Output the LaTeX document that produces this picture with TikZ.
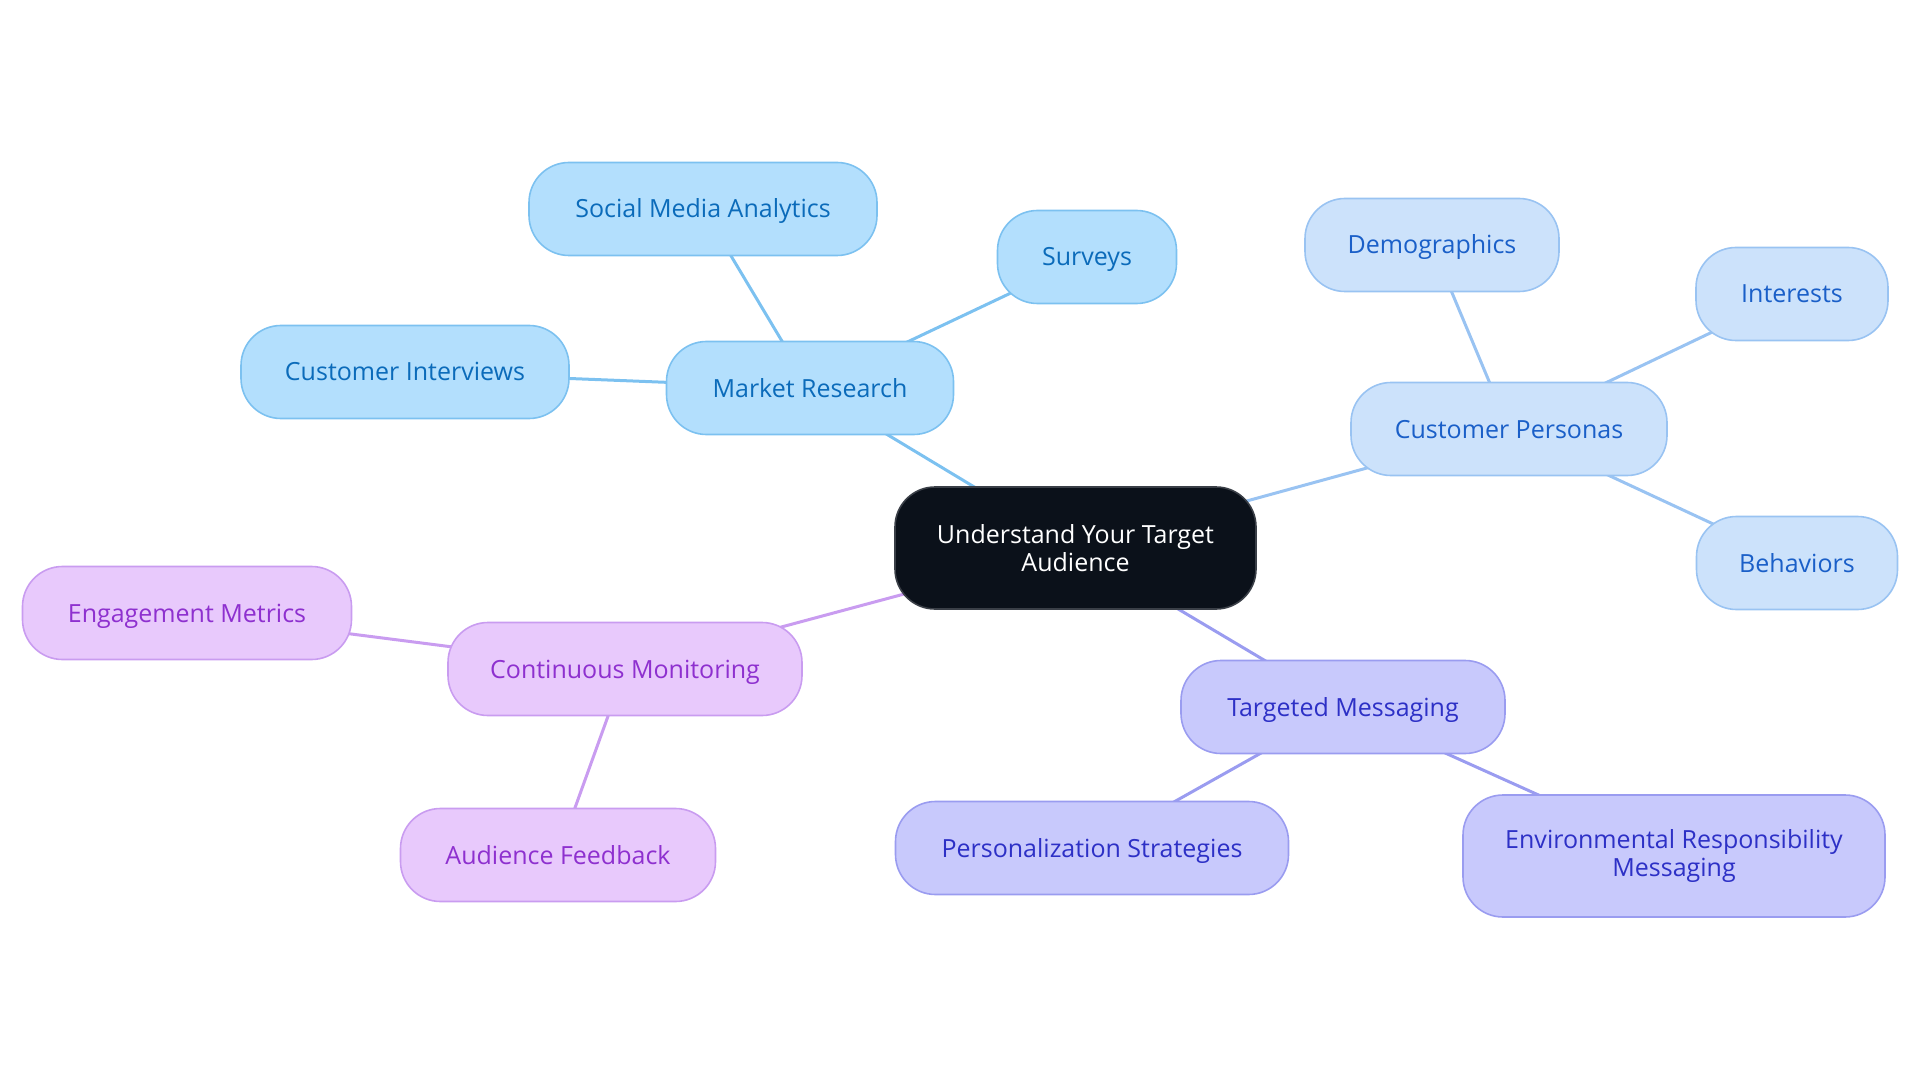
\documentclass[tikz,border=0pt]{standalone}
\usepackage{fontspec}
\setmainfont{Open Sans}
\usetikzlibrary{backgrounds}
\definecolor{cfill}{HTML}{0B111A}
\definecolor{cborder}{HTML}{3A3F47}
\definecolor{bfill}{HTML}{B3DFFD}
\definecolor{bdraw}{HTML}{7CC1F0}
\definecolor{btext}{HTML}{0B6BBA}
\definecolor{pfill}{HTML}{CCE2FB}
\definecolor{pdraw}{HTML}{99C3F2}
\definecolor{ptext}{HTML}{1A5FC8}
\definecolor{tfill}{HTML}{C8C9FC}
\definecolor{tdraw}{HTML}{9A9CF0}
\definecolor{ttext}{HTML}{2D30C6}
\definecolor{mfill}{HTML}{E8C9FC}
\definecolor{mdraw}{HTML}{C99CF0}
\definecolor{mtext}{HTML}{8E30CF}
\tikzset{
  pill/.style={rounded corners=40pt, line width=1.6pt, minimum height=93pt, align=center, inner sep=0pt,
    font=\fontsize{25}{28}\selectfont},
  oneline/.style={text depth=0pt, text height=18pt},
  centralbox/.style={pill, fill=cfill, draw=cborder, text=white, minimum height=122pt},
  brMR/.style={pill, fill=bfill, draw=bdraw, text=btext},
  brCP/.style={pill, fill=pfill, draw=pdraw, text=ptext},
  brTM/.style={pill, fill=tfill, draw=tdraw, text=ttext},
  brCM/.style={pill, fill=mfill, draw=mdraw, text=mtext},
  link/.style={line width=3pt},
}
\begin{document}
\begin{tikzpicture}[x=1pt,y=-1pt]
\useasboundingbox (0,0) rectangle (1920,1083);
\node[centralbox, minimum width=361pt] (c) at (1075.5,548) {Understand Your Target\\Audience};
\node[brMR, oneline, minimum width=287pt] (mr) at (810,388) {Market Research};
\node[brMR, oneline, minimum width=348pt] (sma) at (703,209) {Social Media Analytics};
\node[brMR, oneline, minimum width=179pt] (sv) at (1087,257) {Surveys};
\node[brMR, oneline, minimum width=328pt] (ci) at (405,372) {Customer Interviews};
\node[brCP, oneline, minimum width=316pt] (cp) at (1509,429) {Customer Personas};
\node[brCP, oneline, minimum width=254pt] (dm) at (1432,245) {Demographics};
\node[brCP, oneline, minimum width=192pt] (in) at (1792,294) {Interests};
\node[brCP, oneline, minimum width=201pt] (bh) at (1797,563) {Behaviors};
\node[brTM, oneline, minimum width=324pt] (tm) at (1343,707) {Targeted Messaging};
\node[brTM, oneline, minimum width=393pt] (ps) at (1092,848) {Personalization Strategies};
\node[brTM, minimum width=422pt, minimum height=122pt] (er) at (1674,856) {Environmental Responsibility\\Messaging};
\node[brCM, oneline, minimum width=354pt] (mon) at (625,669) {Continuous Monitoring};
\node[brCM, oneline, minimum width=329pt] (em) at (187,613) {Engagement Metrics};
\node[brCM, oneline, minimum width=315pt] (af) at (558,855) {Audience Feedback};
\begin{scope}[on background layer]
\draw[link, draw=bdraw] (c.center) -- (mr.center);
\draw[link, draw=bdraw] (mr.center) -- (sma.center);
\draw[link, draw=bdraw] (mr.center) -- (sv.center);
\draw[link, draw=bdraw] (mr.center) -- (ci.center);
\draw[link, draw=pdraw] (c.center) -- (cp.center);
\draw[link, draw=pdraw] (cp.center) -- (dm.center);
\draw[link, draw=pdraw] (cp.center) -- (in.center);
\draw[link, draw=pdraw] (cp.center) -- (bh.center);
\draw[link, draw=tdraw] (c.center) -- (tm.center);
\draw[link, draw=tdraw] (tm.center) -- (ps.center);
\draw[link, draw=tdraw] (tm.center) -- (er.center);
\draw[link, draw=mdraw] (c.center) -- (mon.center);
\draw[link, draw=mdraw] (mon.center) -- (em.center);
\draw[link, draw=mdraw] (mon.center) -- (af.center);
\end{scope}
\end{tikzpicture}
\end{document}
